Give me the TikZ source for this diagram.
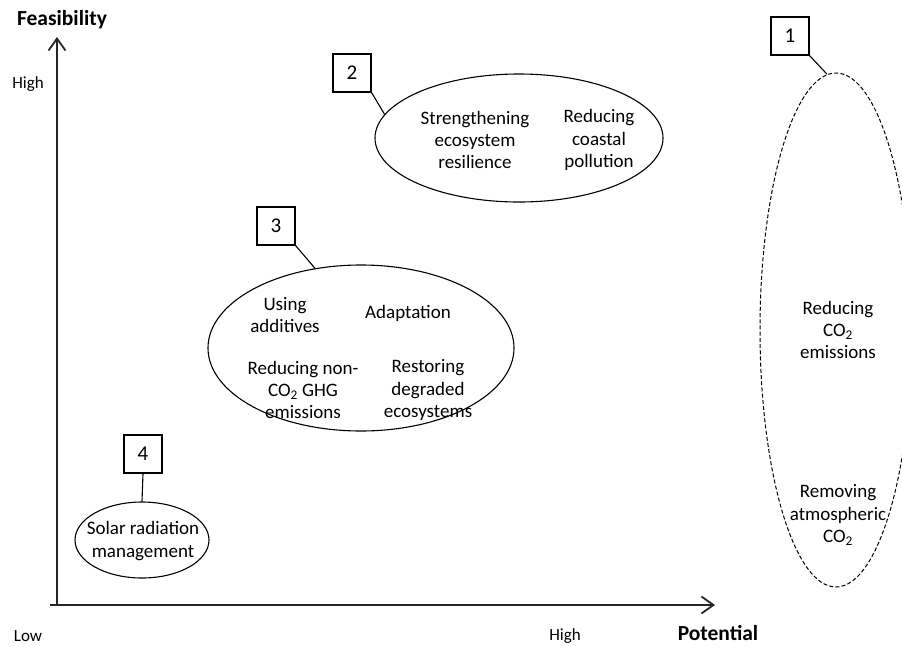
\documentclass[tikz,border=0pt]{standalone}
\usepackage{fontspec}
\setmainfont{Carlito}
\usetikzlibrary{arrows.meta, shapes.geometric, calc}

\begin{document}
\begin{tikzpicture}[x=1pt,y=-1pt,
  axis/.style={line width=1.8pt,black!85,-{Straight Barb[length=12pt,width=17pt]}},
  region/.style={draw,ellipse,inner sep=0pt,line width=1.1pt},
  numbox/.style={draw,line width=1.1pt,minimum size=38pt,inner sep=0pt,
    font=\fontsize{21}{24}\selectfont},
  lbl/.style={align=center,font=\fontsize{19}{22.3}\selectfont},
  axlbl/.style={inner sep=1pt,font=\fontsize{17}{20}\selectfont},
  title/.style={inner sep=1pt,font=\fontsize{21.5}{25}\selectfont\bfseries}]

  \useasboundingbox (0,0) rectangle (902,646);
  \clip (0,0) rectangle (902,646);

  % axes
  \coordinate (origin) at (57,605);
  \coordinate (ytip)   at (57,37);
  \coordinate (xtip)   at (715,605);
  \draw [axis] (50,605) -- (xtip);
  \draw [axis] (origin) -- (ytip);

  \node [title] (feas) at (62,20)   {Feasibility};
  \node [title] (pot)  at (718,633) {Potential};
  \node [axlbl] (yhi)  at (28,84)   {High};
  \node [axlbl] (ylo)  at (28,636)  {Low};
  \node [axlbl] (xhi)  at (565,636) {High};

  % regions
  \node [region,dash pattern=on 4pt off 2.2pt,line width=1pt,
         minimum width=152pt,minimum height=514pt] (e1) at (836,330) {};
  \node [region,minimum width=288pt,minimum height=128pt] (e2) at (519,138) {};
  \node [region,minimum width=306pt,minimum height=166pt] (e3) at (361,348) {};
  \node [region,minimum width=134pt,minimum height=76pt]  (e4) at (142,540) {};

  % region texts
  \node [lbl] (t1a) at (838,330) {Reducing\\CO\textsubscript{2}\\emissions};
  \node [lbl] (t1b) at (838,515) {Removing\\atmospheric\\CO\textsubscript{2}};
  \node [lbl] (t2a) at (475,140) {Strengthening\\ecosystem\\resilience};
  \node [lbl] (t2b) at (599,140) {Reducing\\coastal\\pollution};
  \node [lbl] (t3a) at (285,315) {Using\\additives};
  \node [lbl] (t3b) at (408,313) {Adaptation};
  \node [lbl] (t3c) at (303,390) {Reducing non-\\CO\textsubscript{2} GHG\\emissions};
  \node [lbl] (t3d) at (428,390) {Restoring\\degraded\\ecosystems};
  \node [lbl] (t4)  at (143,541) {Solar radiation\\management};

  % numbered boxes
  \node [numbox] (b1) at (790,36)  {1};
  \node [numbox] (b2) at (352,73)  {2};
  \node [numbox] (b3) at (276,226) {3};
  \node [numbox] (b4) at (143,454) {4};

  \draw [line width=1.1pt] (b1.south east) -- (e1.92);
  \draw [line width=1.1pt] (b2.south east) -- (e2.170);
  \draw [line width=1.1pt] (b3.south east) -- (e3.120);
  \draw [line width=1.1pt] (b4.south) -- (e4.north);
\end{tikzpicture}
\end{document}
